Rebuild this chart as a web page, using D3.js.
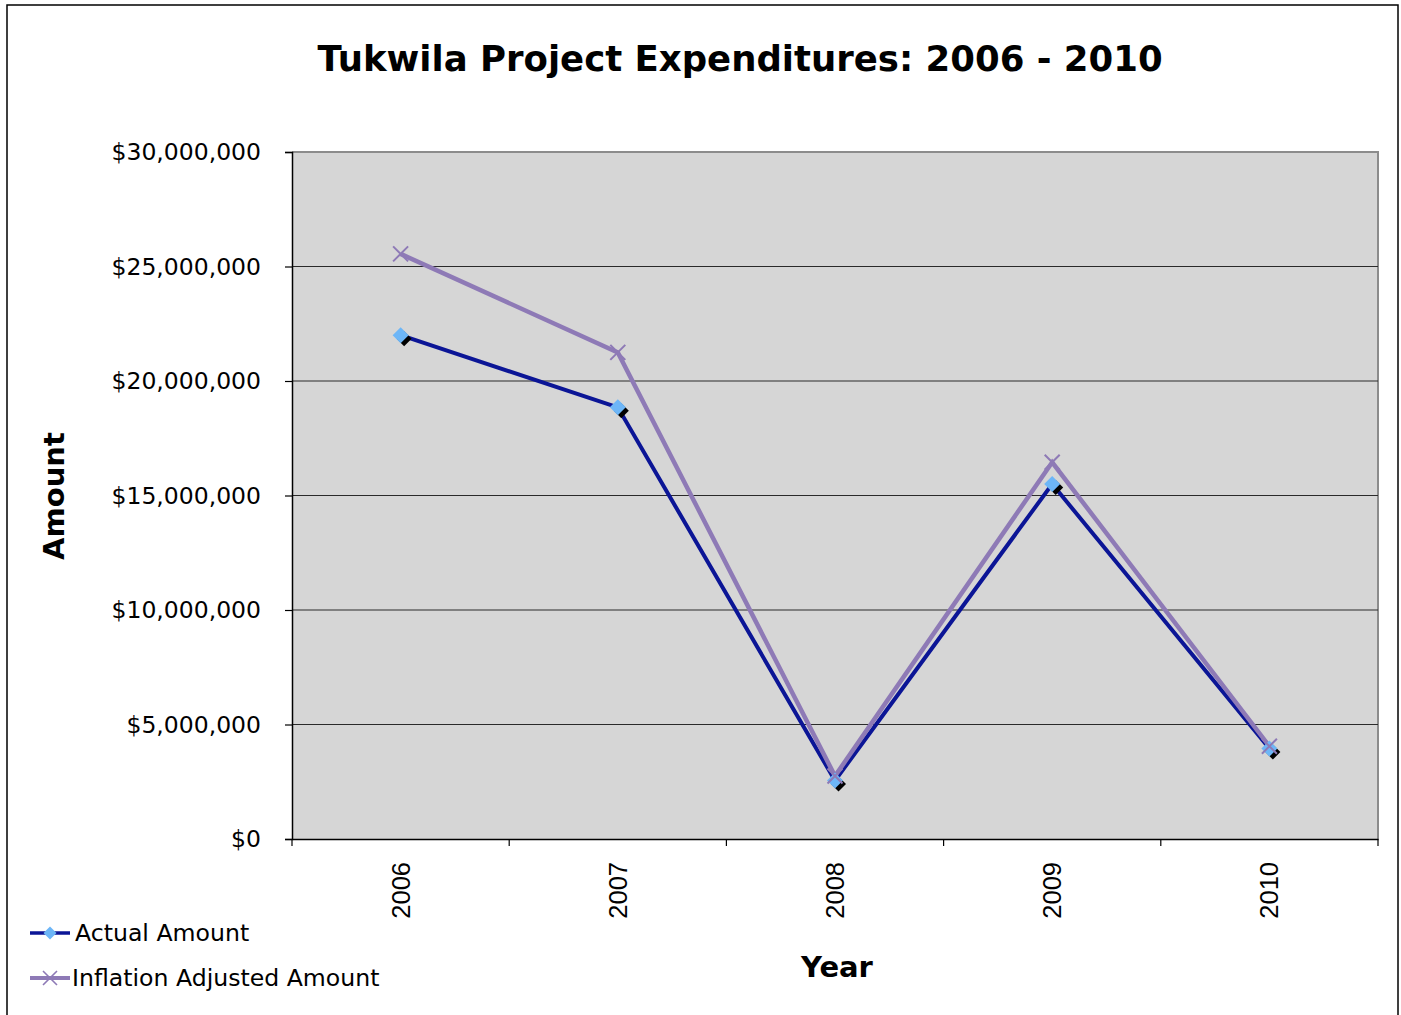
<!DOCTYPE html>
<html><head><meta charset="utf-8">
<script src="https://cdn.jsdelivr.net/npm/d3@7"></script>
<style>html,body{margin:0;padding:0;background:#fff;}</style>
</head><body>
<svg id="chart" width="1401" height="1015"></svg>
<script>
const years = ["2006","2007","2008","2009","2010"];
const actualAmount = [22000000, 18850000, 2550000, 15500000, 3950000];
const inflationAdjusted = [25550000, 21250000, 2750000, 16450000, 4050000];
const yTicks = [0, 5000000, 10000000, 15000000, 20000000, 25000000, 30000000];
const seriesNames = ["Actual Amount", "Inflation Adjusted Amount"];

const svg = d3.select("#chart");
const m = {left: 292, right: 1378, top: 152, bottom: 839};

// outer border
svg.append("rect").attr("x",7).attr("y",5).attr("width",1391).attr("height",1030)
  .attr("fill","#fff").attr("stroke","#000").attr("stroke-width",1.5);

const x = d3.scaleBand().domain(years).range([m.left, m.right]);
const y = d3.scaleLinear().domain([0, 30000000]).range([m.bottom, m.top]);

// plot area
svg.append("rect").attr("x",m.left).attr("y",m.top).attr("width",m.right-m.left).attr("height",m.bottom-m.top)
  .attr("fill","#d6d6d6");
svg.append("path").attr("d",`M${m.left},${m.top}H${m.right}V${m.bottom}`).attr("fill","none")
  .attr("stroke","#8c8c8c").attr("stroke-width",2);

// gridlines
svg.append("g").selectAll("line").data(yTicks.filter(d=>d>0 && d<30000000)).join("line")
  .attr("x1",m.left).attr("x2",m.right).attr("y1",d=>y(d)).attr("y2",d=>y(d))
  .attr("stroke","#2a2a2a").attr("stroke-width",1.2);

// y axis
const yAxis = d3.axisLeft(y).tickValues(yTicks).tickSize(7).tickPadding(24)
  .tickFormat(d=>"$"+d3.format(",")(d));
const gy = svg.append("g").attr("transform",`translate(${m.left},0)`).call(yAxis);
gy.select(".domain").attr("stroke","#000").attr("stroke-width",1.5);
gy.selectAll(".tick line").attr("stroke","#000").attr("stroke-width",1.2);
gy.selectAll("text").attr("font-family","DejaVu Sans").attr("font-size",23.5).attr("fill","#000");

// x axis
const xAxis = d3.axisBottom(x).tickSize(0).tickFormat("");
const gx = svg.append("g").attr("transform",`translate(0,${m.bottom})`).call(xAxis);
gx.select(".domain").attr("stroke","#000").attr("stroke-width",1.5);
const bounds = years.map(d=>x(d)).concat([m.right]);
svg.append("g").selectAll("line").data(bounds).join("line")
  .attr("x1",d=>d).attr("x2",d=>d).attr("y1",m.bottom).attr("y2",m.bottom+7)
  .attr("stroke","#000").attr("stroke-width",1.2);
svg.append("g").selectAll("text").data(years).join("text")
  .attr("transform",d=>`translate(${x(d)+x.bandwidth()/2+9},862) rotate(-90)`)
  .attr("text-anchor","end").attr("font-family","Liberation Sans").attr("font-size",25.5).text(d=>d);

// lines
const line = d3.line().x((d,i)=>x(years[i])+x.bandwidth()/2).y(d=>y(d));
svg.append("path").datum(actualAmount).attr("d",line).attr("fill","none")
  .attr("stroke","#0b1596").attr("stroke-width",4).attr("stroke-linejoin","miter");
svg.append("path").datum(inflationAdjusted).attr("d",line).attr("fill","none")
  .attr("stroke","#8e7ab6").attr("stroke-width",4.5).attr("stroke-linejoin","miter");

// actual markers: shadow + diamond
const dsz = 8;
const diamond = (cx,cy,s)=>`M${cx},${cy-s}L${cx+s},${cy}L${cx},${cy+s}L${cx-s},${cy}Z`;
const ag = svg.append("g");
actualAmount.forEach((v,i)=>{
  const cx = x(years[i])+x.bandwidth()/2, cy = y(v);
  ag.append("path").attr("d",diamond(cx+3.5,cy+3.5,dsz-0.5)).attr("fill","#000");
});
actualAmount.forEach((v,i)=>{
  const cx = x(years[i])+x.bandwidth()/2, cy = y(v);
  ag.append("path").attr("d",diamond(cx,cy,dsz)).attr("fill","#6db6f7");
});
// inflation X markers
const xs = 7.5;
inflationAdjusted.forEach((v,i)=>{
  const cx = x(years[i])+x.bandwidth()/2, cy = y(v);
  svg.append("path").attr("d",`M${cx-xs},${cy-xs}L${cx+xs},${cy+xs}M${cx-xs},${cy+xs}L${cx+xs},${cy-xs}`)
    .attr("stroke","#8e7ab6").attr("stroke-width",2).attr("fill","none");
});

// title
svg.append("text").attr("x",740).attr("y",71).attr("text-anchor","middle")
  .attr("font-family","DejaVu Sans").attr("font-weight","bold").attr("font-size",35.5)
  .text("Tukwila Project Expenditures: 2006 - 2010");
// axis titles
svg.append("text").attr("transform","translate(64,496) rotate(-90)").attr("text-anchor","middle")
  .attr("font-family","DejaVu Sans").attr("font-weight","bold").attr("font-size",29).text("Amount");
svg.append("text").attr("x",837).attr("y",977).attr("text-anchor","middle")
  .attr("font-family","DejaVu Sans").attr("font-weight","bold").attr("font-size",29).text("Year");

// legend
const lg = svg.append("g");
const legY = [933, 978];
lg.append("line").attr("x1",30).attr("x2",70).attr("y1",legY[0]).attr("y2",legY[0]).attr("stroke","#0b1596").attr("stroke-width",3.5);
lg.append("path").attr("d",diamond(50,legY[0],6.5)).attr("fill","#6db6f7");
lg.append("line").attr("x1",30).attr("x2",70).attr("y1",legY[1]).attr("y2",legY[1]).attr("stroke","#8e7ab6").attr("stroke-width",4);
lg.append("path").attr("d",`M${43},${legY[1]-7}L${57},${legY[1]+7}M${43},${legY[1]+7}L${57},${legY[1]-7}`).attr("stroke","#8e7ab6").attr("stroke-width",1.6);
lg.selectAll("text").data(seriesNames).join("text")
  .attr("x",(d,i)=>i===0?75:72).attr("y",(d,i)=>legY[i]+8)
  .attr("font-family","DejaVu Sans").attr("font-size",23.6).text(d=>d);
</script>
</body></html>
